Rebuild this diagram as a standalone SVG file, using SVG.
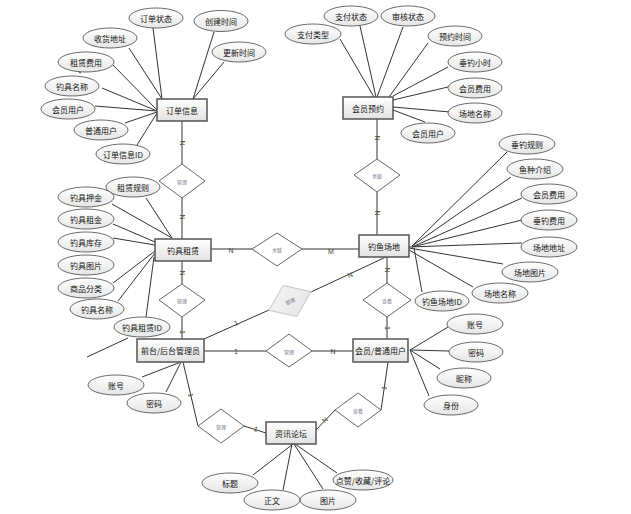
<svg xmlns="http://www.w3.org/2000/svg" width="631" height="514" viewBox="0 0 631 514">
<defs>
<linearGradient id="gE" x1="0" y1="0" x2="0" y2="1"><stop offset="0" stop-color="#ffffff"/><stop offset="1" stop-color="#e6e6e6"/></linearGradient>
<linearGradient id="gR" x1="0" y1="0" x2="0" y2="1"><stop offset="0" stop-color="#ffffff"/><stop offset="1" stop-color="#e2e2e2"/></linearGradient>
<linearGradient id="gG" x1="0" y1="0" x2="1" y2="1"><stop offset="0" stop-color="#f6f6f6"/><stop offset="1" stop-color="#e4e4e4"/></linearGradient>
</defs>
<style>
.e{fill:url(#gE);stroke:#444;stroke-width:0.8}
.r{fill:url(#gR);stroke:#555;stroke-width:1.5}
.d{fill:#fff;stroke:#666;stroke-width:1}
.dg{fill:url(#gG);stroke:#c8c8c8;stroke-width:1}
.t{font-family:"Noto Sans CJK SC","Liberation Sans",sans-serif;font-size:8px;fill:#111;text-anchor:middle;dominant-baseline:central}
.dt{font-family:"Noto Sans CJK SC","Liberation Sans",sans-serif;font-size:5px;fill:#778;text-anchor:middle;dominant-baseline:central}
.c line,.c polyline{stroke:#333;stroke-width:1;fill:none}
.l{font-family:"Liberation Sans",sans-serif;font-size:7px;fill:#443;text-anchor:middle;dominant-baseline:central}
</style>

<g id="connectors" class="c">
<line x1="153" y1="28" x2="162" y2="99"/>
<line x1="129" y1="48" x2="162" y2="99"/>
<line x1="214" y1="32" x2="193" y2="99"/>
<line x1="224" y1="62" x2="193" y2="99"/>
<line x1="113" y1="65" x2="157" y2="110"/>
<line x1="102" y1="88" x2="157" y2="111"/>
<line x1="95" y1="106" x2="157" y2="111"/>
<line x1="125" y1="123" x2="157" y2="112"/>
<line x1="137" y1="145" x2="157" y2="113"/>
<line x1="182" y1="121" x2="182" y2="164"/>
<line x1="182" y1="198" x2="182" y2="239"/>
<line x1="146" y1="198" x2="172" y2="238"/>
<line x1="112" y1="204" x2="172" y2="238"/>
<line x1="113" y1="224" x2="155" y2="242"/>
<line x1="113" y1="238" x2="155" y2="245"/>
<line x1="113" y1="283" x2="155" y2="251"/>
<line x1="118" y1="301" x2="155" y2="253"/>
<line x1="146" y1="317" x2="154" y2="257"/>
<line x1="87" y1="357" x2="128" y2="338"/>
<line x1="182" y1="261" x2="182" y2="284"/>
<line x1="182" y1="317" x2="182" y2="339"/>
<line x1="211" y1="249" x2="252" y2="249"/>
<line x1="302" y1="249" x2="359" y2="249"/>
<line x1="340" y1="39" x2="374" y2="97"/>
<line x1="360" y1="26" x2="376" y2="97"/>
<line x1="403" y1="27" x2="377" y2="97"/>
<line x1="428" y1="43" x2="389" y2="97"/>
<line x1="448" y1="67" x2="393" y2="96"/>
<line x1="448" y1="87" x2="393" y2="100"/>
<line x1="450" y1="112" x2="393" y2="107"/>
<line x1="425" y1="122" x2="393" y2="110"/>
<line x1="377" y1="119" x2="377" y2="159"/>
<line x1="377" y1="192" x2="377" y2="235"/>
<line x1="507" y1="152" x2="412" y2="246"/>
<line x1="511" y1="177" x2="412" y2="246"/>
<line x1="522" y1="198" x2="412" y2="247"/>
<line x1="522" y1="220" x2="412" y2="247"/>
<line x1="522" y1="243" x2="409" y2="247"/>
<line x1="503" y1="264" x2="409" y2="248"/>
<line x1="473" y1="287" x2="409" y2="250"/>
<line x1="422" y1="292" x2="414" y2="248"/>
<line x1="387" y1="257" x2="387" y2="283"/>
<line x1="387" y1="317" x2="387" y2="339"/>
<line x1="204" y1="339" x2="269" y2="310"/>
<line x1="311" y1="292" x2="386" y2="257"/>
<line x1="204" y1="351" x2="266" y2="351"/>
<line x1="312" y1="351" x2="353" y2="351"/>
<line x1="142" y1="377" x2="181" y2="362"/>
<line x1="166" y1="392" x2="181" y2="362"/>
<polyline points="183,362 198,426"/>
<line x1="244" y1="426" x2="266" y2="433"/>
<line x1="448" y1="327" x2="410" y2="350"/>
<line x1="449" y1="351" x2="410" y2="350"/>
<line x1="440" y1="369" x2="410" y2="350"/>
<line x1="429" y1="396" x2="410" y2="350"/>
<line x1="388" y1="362" x2="381" y2="410"/>
<line x1="335" y1="410" x2="316" y2="430"/>
<line x1="253" y1="475" x2="293" y2="444"/>
<line x1="283" y1="490" x2="292" y2="444"/>
<line x1="323" y1="489" x2="294" y2="444"/>
<line x1="337" y1="473" x2="295" y2="444"/>
<path d="M78,70 L82,70 L80,74 Z" fill="#444" stroke="none"/>
<text class="l" transform="translate(182,143) rotate(90)">N</text>
<text class="l" transform="translate(182,217) rotate(90)">N</text>
<text class="l" transform="translate(182,273) rotate(90)">N</text>
<text class="l" transform="translate(182,332) rotate(90)">1</text>
<text class="l" x="231" y="250">N</text>
<text class="l" x="331" y="251">M</text>
<text class="l" transform="translate(377,138) rotate(90)">N</text>
<text class="l" transform="translate(377,213) rotate(90)">N</text>
<text class="l" transform="translate(387,270) rotate(90)">N</text>
<text class="l" transform="translate(387,328) rotate(90)">1</text>
<text class="l" transform="translate(236,323) rotate(-24)">1</text>
<text class="l" transform="translate(350,275) rotate(-24)">N</text>
<text class="l" x="236" y="351">1</text>
<text class="l" x="333" y="351">N</text>
<text class="l" transform="translate(191,395) rotate(77)">1</text>
<text class="l" transform="translate(256,429) rotate(18)">1</text>
<text class="l" transform="translate(384,388) rotate(-82)">1</text>
<text class="l" transform="translate(325,420) rotate(-47)">N</text>
</g>

<g id="订单信息"><rect class="r" x="157" y="99" width="50" height="22"/><text class="t" x="182" y="110">订单信息</text></g>
<g id="会员预约"><rect class="r" x="343" y="97" width="50" height="22"/><text class="t" x="368" y="108">会员预约</text></g>
<g id="钓具租赁"><rect class="r" x="155" y="239" width="56" height="22"/><text class="t" x="183" y="250">钓具租赁</text></g>
<g id="钓鱼场地"><rect class="r" x="359" y="235" width="50" height="22"/><text class="t" x="384" y="246">钓鱼场地</text></g>
<g id="前台后台管理员"><rect class="r" x="137" y="339" width="67" height="23"/><text class="t" x="170.5" y="350.5">前台/后台管理员</text></g>
<g id="会员普通用户"><rect class="r" x="353" y="339" width="55" height="23"/><text class="t" x="380.5" y="350.5">会员/普通用户</text></g>
<g id="资讯论坛"><rect class="r" x="266" y="422" width="50" height="22"/><text class="t" x="291" y="433">资讯论坛</text></g>

<g id="rel-管理1"><polygon class="d" points="182,164 205,181 182,198 159,181"/><text class="dt" x="182" y="181">管理</text></g>
<g id="rel-关联1"><polygon class="d" points="377,159 400,175 377,192 354,175"/><text class="dt" x="377" y="175">关联</text></g>
<g id="rel-关联2"><polygon class="d" points="277,233 302,249 277,266 252,249"/><text class="dt" x="277" y="249">关联</text></g>
<g id="rel-管理2"><polygon class="d" points="182,284 205,300 182,317 159,300"/><text class="dt" x="182" y="300">管理</text></g>
<g id="rel-管理3" transform="translate(290,301) rotate(-24)"><polygon class="dg" points="0,-17 23,0 0,17 -23,0"/><text class="dt" x="0" y="0">管理</text></g>
<g id="rel-查看1"><polygon class="d" points="387,283 411,300 387,317 363,300"/><text class="dt" x="387" y="300">查看</text></g>
<g id="rel-管理4"><polygon class="d" points="289,334 312,351 289,367 266,351"/><text class="dt" x="289" y="351">管理</text></g>
<g id="rel-管理5"><polygon class="d" points="221,409 244,426 221,443 198,426"/><text class="dt" x="221" y="426">管理</text></g>
<g id="rel-查看2"><polygon class="d" points="358,393 381,410 358,427 335,410"/><text class="dt" x="358" y="410">查看</text></g>

<g id="a-订单状态"><ellipse class="e" cx="156" cy="18" rx="27" ry="10"/><text class="t" x="156" y="18">订单状态</text></g>
<g id="a-创建时间"><ellipse class="e" cx="221" cy="21" rx="27" ry="10.5"/><text class="t" x="221" y="21">创建时间</text></g>
<g id="a-收货地址"><ellipse class="e" cx="110" cy="38" rx="27" ry="10"/><text class="t" x="110" y="38">收货地址</text></g>
<g id="a-更新时间"><ellipse class="e" cx="239" cy="52" rx="27" ry="10"/><text class="t" x="239" y="52">更新时间</text></g>
<g id="a-租赁费用"><ellipse class="e" cx="86" cy="62" rx="28" ry="10"/><text class="t" x="86" y="62">租赁费用</text></g>
<g id="a-钓具名称1"><ellipse class="e" cx="72" cy="86" rx="27" ry="10"/><text class="t" x="72" y="86">钓具名称</text></g>
<g id="a-会员用户1"><ellipse class="e" cx="68" cy="109" rx="27" ry="10"/><text class="t" x="68" y="109">会员用户</text></g>
<g id="a-普通用户"><ellipse class="e" cx="101" cy="130" rx="27" ry="10"/><text class="t" x="101" y="130">普通用户</text></g>
<g id="a-订单信息ID"><ellipse class="e" cx="123" cy="154" rx="27" ry="10"/><text class="t" x="123" y="154">订单信息ID</text></g>

<g id="a-支付类型"><ellipse class="e" cx="313" cy="34" rx="28" ry="10"/><text class="t" x="313" y="34">支付类型</text></g>
<g id="a-支付状态"><ellipse class="e" cx="351" cy="16" rx="27" ry="10"/><text class="t" x="351" y="16">支付状态</text></g>
<g id="a-审核状态"><ellipse class="e" cx="408" cy="16" rx="27" ry="10"/><text class="t" x="408" y="16">审核状态</text></g>
<g id="a-预约时间"><ellipse class="e" cx="455" cy="36" rx="27" ry="10"/><text class="t" x="455" y="36">预约时间</text></g>
<g id="a-垂钓小时"><ellipse class="e" cx="475" cy="62" rx="27" ry="10"/><text class="t" x="475" y="62">垂钓小时</text></g>
<g id="a-会员费用1"><ellipse class="e" cx="475" cy="88" rx="27" ry="10"/><text class="t" x="475" y="88">会员费用</text></g>
<g id="a-场地名称1"><ellipse class="e" cx="475" cy="113" rx="27" ry="10"/><text class="t" x="475" y="113">场地名称</text></g>
<g id="a-会员用户2"><ellipse class="e" cx="428" cy="133" rx="27" ry="10"/><text class="t" x="428" y="133">会员用户</text></g>

<g id="a-租赁规则"><ellipse class="e" cx="133" cy="187" rx="27" ry="10"/><text class="t" x="133" y="187">租赁规则</text></g>
<g id="a-钓具押金"><ellipse class="e" cx="86" cy="197" rx="28" ry="10"/><text class="t" x="86" y="197">钓具押金</text></g>
<g id="a-钓具租金"><ellipse class="e" cx="86" cy="219" rx="28" ry="10"/><text class="t" x="86" y="219">钓具租金</text></g>
<g id="a-钓具库存"><ellipse class="e" cx="86" cy="242" rx="28" ry="10"/><text class="t" x="86" y="242">钓具库存</text></g>
<g id="a-钓具图片"><ellipse class="e" cx="86" cy="265" rx="28" ry="10"/><text class="t" x="86" y="265">钓具图片</text></g>
<g id="a-商品分类"><ellipse class="e" cx="86" cy="288" rx="28" ry="10"/><text class="t" x="86" y="288">商品分类</text></g>
<g id="a-钓具名称2"><ellipse class="e" cx="97" cy="309" rx="27" ry="10"/><text class="t" x="97" y="309">钓具名称</text></g>
<g id="a-钓具租赁ID"><ellipse class="e" cx="142" cy="327" rx="28" ry="10"/><text class="t" x="142" y="327">钓具租赁ID</text></g>

<g id="a-垂钓规则"><ellipse class="e" cx="527" cy="144" rx="28" ry="10"/><text class="t" x="527" y="144">垂钓规则</text></g>
<g id="a-鱼种介绍"><ellipse class="e" cx="535" cy="169" rx="28" ry="10"/><text class="t" x="535" y="169">鱼种介绍</text></g>
<g id="a-会员费用2"><ellipse class="e" cx="549" cy="194" rx="28" ry="10"/><text class="t" x="549" y="194">会员费用</text></g>
<g id="a-垂钓费用"><ellipse class="e" cx="549" cy="220" rx="28" ry="10"/><text class="t" x="549" y="220">垂钓费用</text></g>
<g id="a-场地地址"><ellipse class="e" cx="549" cy="247" rx="28" ry="10"/><text class="t" x="549" y="247">场地地址</text></g>
<g id="a-场地图片"><ellipse class="e" cx="530" cy="272" rx="28" ry="10"/><text class="t" x="530" y="272">场地图片</text></g>
<g id="a-场地名称2"><ellipse class="e" cx="500" cy="293" rx="28" ry="10"/><text class="t" x="500" y="293">场地名称</text></g>
<g id="a-钓鱼场地ID"><ellipse class="e" cx="442" cy="301" rx="27" ry="10"/><text class="t" x="442" y="301">钓鱼场地ID</text></g>

<g id="a-账号1"><ellipse class="e" cx="116" cy="385" rx="28" ry="10"/><text class="t" x="116" y="385">账号</text></g>
<g id="a-密码1"><ellipse class="e" cx="154" cy="403" rx="27" ry="10"/><text class="t" x="154" y="403">密码</text></g>

<g id="a-账号2"><ellipse class="e" cx="475" cy="324" rx="28" ry="10"/><text class="t" x="475" y="324">账号</text></g>
<g id="a-密码2"><ellipse class="e" cx="476" cy="352" rx="27" ry="10"/><text class="t" x="476" y="352">密码</text></g>
<g id="a-昵称"><ellipse class="e" cx="464" cy="378" rx="27" ry="10"/><text class="t" x="464" y="378">昵称</text></g>
<g id="a-身份"><ellipse class="e" cx="451" cy="405" rx="27" ry="10"/><text class="t" x="451" y="405">身份</text></g>

<g id="a-标题"><ellipse class="e" cx="230" cy="483" rx="28" ry="10"/><text class="t" x="230" y="483">标题</text></g>
<g id="a-正文"><ellipse class="e" cx="272" cy="500" rx="28" ry="10"/><text class="t" x="272" y="500">正文</text></g>
<g id="a-图片"><ellipse class="e" cx="328" cy="500" rx="28" ry="10"/><text class="t" x="328" y="500">图片</text></g>
<g id="a-点赞收藏评论"><ellipse class="e" cx="363" cy="480" rx="30" ry="10"/><text class="t" x="363" y="480">点赞/收藏/评论</text></g>
</svg>
